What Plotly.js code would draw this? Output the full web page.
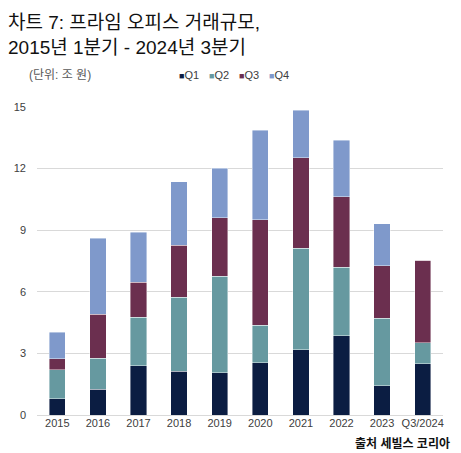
<!DOCTYPE html>
<html>
<head>
<meta charset="utf-8">
<script src="https://cdn.plot.ly/plotly-3.0.1.min.js"></script>
<style>body{margin:0;padding:0;background:#fff;} #chart{width:461px;height:453px;}</style>
</head>
<body>
<div id="chart"></div>
<script>
const categories = ["2015","2016","2017","2018","2019","2020","2021","2022","2023","Q3/2024"];
const q1 = [0.78, 1.25, 2.40, 2.14, 2.06, 2.55, 3.18, 3.86, 1.43, 2.50];
const q2 = [1.43, 1.51, 2.35, 3.59, 4.70, 1.83, 4.93, 3.34, 3.29, 1.02];
const q3 = [0.53, 2.15, 1.72, 2.54, 2.84, 5.13, 4.43, 3.42, 2.55, 4.02];
const q4 = [1.30, 3.70, 2.43, 3.08, 2.42, 4.36, 2.30, 2.76, 2.04, 0];
const seriesNames = ["Q1","Q2","Q3","Q4"];
const yTicks = [0, 3, 6, 9, 12, 15];
const titleLines = ["차트 7: 프라임 오피스 거래규모,", "2015년 1분기 - 2024년 3분기"];

const colors = ["#0B1D42", "#6699A0", "#6B2F4F", "#7F99CB"];
const allSeries = [q1, q2, q3, q4];
const font = "Liberation Sans, Arial, sans-serif";
const kfont = "Liberation Sans, Noto Sans CJK KR, sans-serif";

const traces = allSeries.map((vals, i) => ({
  type: "bar",
  name: seriesNames[i],
  x: categories,
  y: vals,
  width: 0.4,
  marker: {color: colors[i], line: {color: "rgba(255,255,255,0.7)", width: 0.6}},
  hoverinfo: "x+y+name"
}));

const px2x = px => (px - 37) / 406;
const py2y = py => (415 - py) / 308;

const legendAnns = seriesNames.map((n, i) => ({
  xref: "paper", yref: "paper",
  x: px2x(177 + i * 30), y: py2y(75),
  xanchor: "left", yanchor: "middle",
  showarrow: false,
  text: '<span style="color:' + colors[i] + ';font-size:9px">■</span>' + n,
  font: {family: font, size: 11, color: "#404040"}
}));

const titleAnns = titleLines.map((t, i) => ({
  xref: "paper", yref: "paper",
  x: px2x(6), y: py2y(22 + i * 25),
  xanchor: "left", yanchor: "middle", showarrow: false,
  text: t,
  font: {family: kfont, size: 19, color: "#111111"}
}));

const layout = {
  width: 461, height: 453,
  margin: {l: 37, r: 18, t: 107, b: 38},
  paper_bgcolor: "#ffffff",
  plot_bgcolor: "#ffffff",
  barmode: "stack",
  showlegend: false,
  xaxis: {
    type: "category",
    range: [-0.5, 9.5],
    showgrid: false, zeroline: false, showline: false,
    ticks: "",
    tickfont: {family: font, size: 11, color: "#404040"}
  },
  yaxis: {
    range: [0, 15],
    tickvals: yTicks,
    ticktext: yTicks.map(String),
    showgrid: true, gridcolor: "#d9d9d9", gridwidth: 1,
    zeroline: true, zerolinecolor: "#d9d9d9", zerolinewidth: 1,
    showline: false, ticks: "",
    ticklabelstandoff: 10,
    tickfont: {family: font, size: 11, color: "#404040"}
  },
  annotations: [
    {
      xref: "paper", yref: "paper",
      x: px2x(27), y: py2y(75),
      xanchor: "left", yanchor: "middle", showarrow: false,
      text: "(단위: 조 원)",
      font: {family: kfont, size: 12, color: "#595959"}
    },
    {
      xref: "paper", yref: "paper",
      x: px2x(452), y: py2y(444),
      xanchor: "right", yanchor: "middle", showarrow: false,
      text: "<b>출처 세빌스 코리아</b>",
      font: {family: kfont, size: 12, color: "#111111"}
    }
  ].concat(titleAnns, legendAnns)
};

Plotly.newPlot("chart", traces, layout, {displayModeBar: false, staticPlot: true});
</script>
</body>
</html>
